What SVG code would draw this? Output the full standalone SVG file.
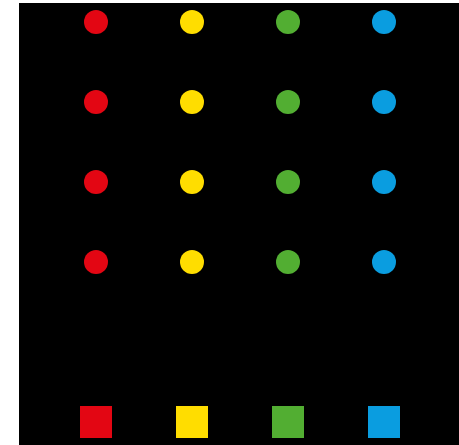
<svg xmlns="http://www.w3.org/2000/svg" width="459" height="445" viewBox="0 0 459 445">
<style>
.r{fill:#e30613}.y{fill:#ffdd00}.g{fill:#52ae32}.b{fill:#0a9de0}
</style>
<rect x="0" y="0" width="459" height="445" fill="#ffffff"/>
<rect x="19" y="3" width="440" height="442" fill="#000000"/>
<g id="dots-red">
<circle class="r" cx="96" cy="22" r="12"/>
<circle class="r" cx="96" cy="102" r="12"/>
<circle class="r" cx="96" cy="182" r="12"/>
<circle class="r" cx="96" cy="262" r="12"/>
</g>
<g id="dots-yellow">
<circle class="y" cx="192" cy="22" r="12"/>
<circle class="y" cx="192" cy="102" r="12"/>
<circle class="y" cx="192" cy="182" r="12"/>
<circle class="y" cx="192" cy="262" r="12"/>
</g>
<g id="dots-green">
<circle class="g" cx="288" cy="22" r="12"/>
<circle class="g" cx="288" cy="102" r="12"/>
<circle class="g" cx="288" cy="182" r="12"/>
<circle class="g" cx="288" cy="262" r="12"/>
</g>
<g id="dots-blue">
<circle class="b" cx="384" cy="22" r="12"/>
<circle class="b" cx="384" cy="102" r="12"/>
<circle class="b" cx="384" cy="182" r="12"/>
<circle class="b" cx="384" cy="262" r="12"/>
</g>
<g id="squares">
<rect class="r" x="80" y="406" width="32" height="32"/>
<rect class="y" x="176" y="406" width="32" height="32"/>
<rect class="g" x="272" y="406" width="32" height="32"/>
<rect class="b" x="368" y="406" width="32" height="32"/>
</g>
</svg>
